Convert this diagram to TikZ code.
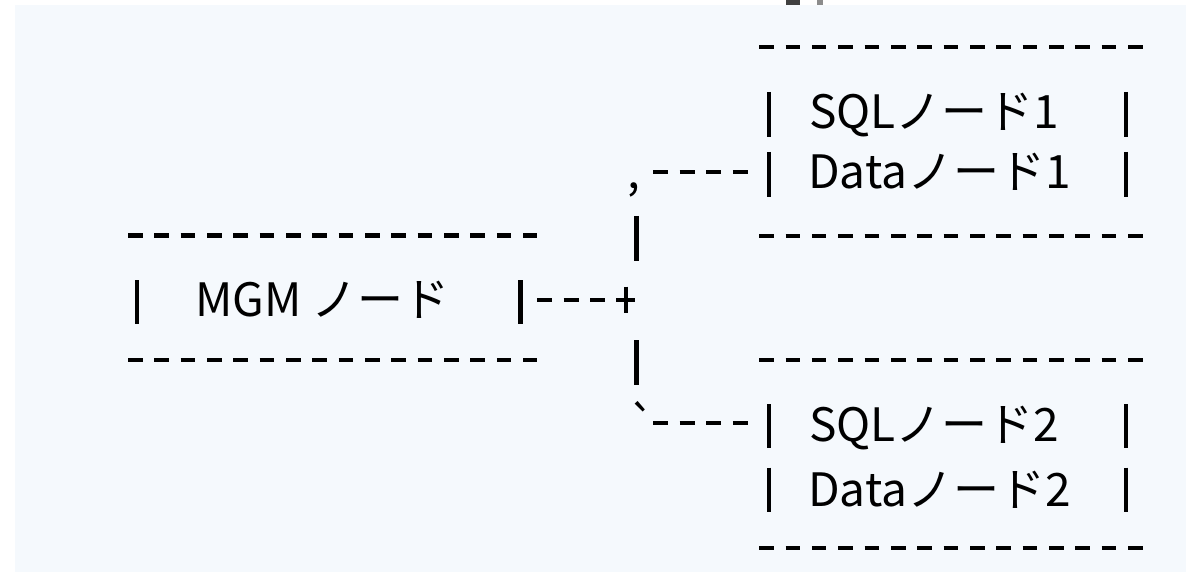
\documentclass[tikz,border=0pt]{standalone}
\usepackage{fontspec}
\newfontfamily\jp{Noto Sans CJK JP}
\definecolor{paper}{RGB}{245,249,253}
\begin{document}
\begin{tikzpicture}[x=1pt,y=-1pt,
  boxrule/.style={line width=4.3pt, dash pattern=on 14.5pt off 11.84pt},
  linkrule/.style={line width=4.3pt, dash pattern=on 15pt off 11.6pt},
  bar/.style={line width=4.5pt},
  txt/.style={font=\jp\fontsize{46}{46}\selectfont, inner sep=0pt, anchor=base west},
]
% canvas
\useasboundingbox (0,0) rectangle (1186,572);
\fill[white] (0,0) rectangle (1186,572);
\fill[paper] (15,5) rectangle (1186,572);
\fill[black!75] (786,0) rectangle (800,5);
\fill[black!45] (817,0) rectangle (823,5);

% ---------- box outlines (dashed top/bottom rules) ----------
\coordinate (b1nw) at (759.3,47.3);  \coordinate (b1ne) at (1143.8,47.3);
\coordinate (b1sw) at (759.3,236);   \coordinate (b1se) at (1143.8,236);
\coordinate (mnw) at (128,235.5);    \coordinate (mne) at (537,235.5);
\coordinate (msw) at (128,360);      \coordinate (mse) at (537,360);
\coordinate (b2nw) at (759.3,360);   \coordinate (b2ne) at (1143.8,360);
\coordinate (b2sw) at (759.3,548.3); \coordinate (b2se) at (1143.8,548.3);

\draw[boxrule] (b1nw) -- (b1ne);
\draw[boxrule] (b1sw) -- (b1se);
\draw[boxrule] (mnw) -- (mne);
\draw[boxrule] (msw) -- (mse);
\draw[boxrule] (b2nw) -- (b2ne);
\draw[boxrule] (b2sw) -- (b2se);

% ---------- side bars, one per text row ----------
\foreach \ya/\yb in {92/136.7, 152/196.7, 404/448, 467.7/512.3}{
  \draw[bar] (769,\ya) -- (769,\yb);
  \draw[bar] (1126,\ya) -- (1126,\yb);
}
\draw[bar] (137.2,280) -- (137.2,324.3);
\draw[bar] (520.5,280) -- (520.5,324.3);

% ---------- labels ----------
\node[txt] (sql1)  at (809,129)   {SQLノード1};
\node[txt] (data1) at (808,189)   {Dataノード1};
\node[txt] (mgm)   at (195,316.7) {MGM ノード};
\node[txt] (sql2)  at (809,441.7) {SQLノード2};
\node[txt] (data2) at (808,506)   {Dataノード2};

% ---------- connectors ----------
\coordinate (mgmout) at (537,300);
\coordinate (j)      at (626,300);
\coordinate (jw)     at (616,300);
\coordinate (up1)    at (636.7,216);
\coordinate (up2)    at (636.7,261);
\coordinate (dn1)    at (636.7,340);
\coordinate (dn2)    at (636.7,385);
\coordinate (t1a)    at (653,171.7);
\coordinate (t1b)    at (748,171.7);
\coordinate (t2a)    at (653,423.3);
\coordinate (t2b)    at (748,423.3);

\draw[linkrule] (mgmout) -- (jw);
% junction mark
\draw[line width=4pt] (jw) -- ++(19,0);
\draw[line width=4pt] (626,286.7) -- (626,313.3);
\draw[bar] (up1) -- (up2);
\draw[bar] (dn1) -- (dn2);
\draw[linkrule] (t1a) -- (t1b);
\draw[linkrule] (t2a) -- (t2b);
\node[txt] (c1) at (627,189)   {,};
\node[txt] (c2) at (628,441.7) {`};
\end{tikzpicture}
\end{document}
